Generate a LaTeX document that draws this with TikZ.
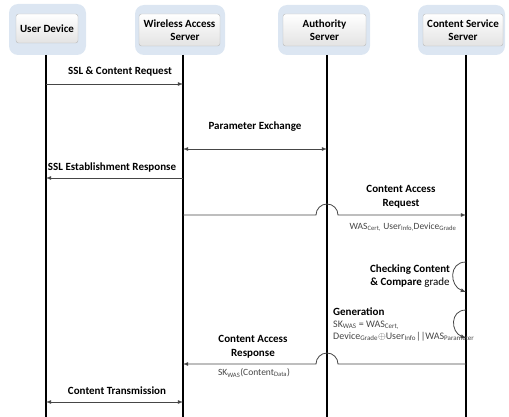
\documentclass[tikz,border=0pt]{standalone}
\usepackage{fontspec}
\setmainfont{Carlito}
\definecolor{hdrblue}{RGB}{220,230,242}
\definecolor{msggray}{RGB}{70,70,70}

\begin{document}
\begin{tikzpicture}[x=1pt,y=-1pt,>=latex]
\tikzstyle{every node}+=[inner sep=0pt]
\tikzstyle{hdrback}=[fill=hdrblue, rounded corners=9pt]
\tikzstyle{hdr}=[draw=gray!55, rounded corners=2.5pt, top color=white, bottom color=gray!22, align=center, font=\bfseries\fontsize{11}{13}\selectfont]
\tikzstyle{life}=[line width=1.4pt]
\tikzstyle{msg}=[draw=msggray, line width=0.8pt]
\tikzstyle{lbl}=[align=center, font=\bfseries\fontsize{11}{13.5}\selectfont]
\tikzstyle{note}=[text=msggray, font=\fontsize{9.5}{11}\selectfont]
\useasboundingbox (0,0) rectangle (509,417);
% headers
\node [hdrback, minimum width=77pt, minimum height=51pt] (udbg) at (47.5,29.5) {};
\node [hdr, minimum width=62pt, minimum height=29pt] (ud) at (47,28.5) {User Device};
\node [hdrback, minimum width=90pt, minimum height=50pt] (wasbg) at (180,30) {};
\node [hdr, minimum width=81pt, minimum height=32pt] (was) at (179.5,30) {Wireless Access\\ \quad Server};
\node [hdrback, minimum width=92pt, minimum height=50pt] (asbg) at (324,30) {};
\node [hdr, minimum width=83pt, minimum height=32pt] (as) at (324.5,30) {Authority\\Server};
\node [hdrback, minimum width=87pt, minimum height=50pt] (cssbg) at (461.5,30) {};
\node [hdr, minimum width=80pt, minimum height=32pt] (css) at (463,30) {Content Service\\Server};
% lifelines
\coordinate (udT) at (46,55);   \coordinate (udB) at (46,417);
\coordinate (wasT) at (183,55); \coordinate (wasB) at (183,417);
\coordinate (asT) at (327,55);  \coordinate (asB) at (327,417);
\coordinate (cssT) at (466,55); \coordinate (cssB) at (466,417);
\draw [life] (udT) -- (udB);
\draw [life] (wasT) -- (wasB);
\draw [life] (asT) -- (asB);
\draw [life] (cssT) -- (cssB);
% message rows
\coordinate (r1) at (0,84);
\coordinate (r2) at (0,149);
\coordinate (r3) at (0,178);
\coordinate (r4) at (0,215);
\coordinate (r5a) at (0,262); \coordinate (r5b) at (0,292);
\coordinate (r6a) at (0,310); \coordinate (r6b) at (0,338);
\coordinate (r7) at (0,364);
\coordinate (r8) at (0,402);
% messages
\draw [msg,->] (udT |- r1) -- (wasT |- r1);
\node [lbl] (m1) at (120,72) {SSL \& Content Request};
\draw [msg,<->] (wasT |- r2) -- (asT |- r2);
\node [lbl] (m2) at (255,127) {Parameter Exchange};
\draw [msg,->] (wasT |- r3) -- (udT |- r3);
\node [lbl] (m3) at (112,168) {SSL Establishment Response};
\draw [msg,->] (wasT |- r4) -- ([xshift=-11pt]asT |- r4) arc [start angle=180, end angle=0, radius=11pt] -- (cssT |- r4);
\node [lbl] (m4) at (401,197) {Content Access\\Request};
\node [note] (n4) at (403,227) {WAS\textsubscript{Cert,} User\textsubscript{Info,}Device\textsubscript{Grade}};
\draw [msg,->] (cssT |- r5a) to [out=180, in=160, looseness=1.5] (cssT |- r5b);
\node [lbl] (m5) at (410,276) {Checking Content\\\& Compare {\mdseries grade}};
\draw [msg,->] (cssT |- r6a) to [out=180, in=160, looseness=1.5] (cssT |- r6b);
\node [anchor=west, align=left, text=msggray, font=\fontsize{10}{12}\selectfont] (m6) at (333,324) {{\color{black}\bfseries\fontsize{11}{12}\selectfont Generation}\\
  SK\textsubscript{WAS} = WAS\textsubscript{Cert,}\\
  Device\textsubscript{Grade}$\oplus$User\textsubscript{Info}||WAS\textsubscript{Parameter}};
\draw [msg,->] (cssT |- r7) -- ([xshift=11pt]asT |- r7) arc [start angle=0, end angle=180, radius=11pt] -- (wasT |- r7);
\node [lbl] (m7) at (253,347) {Content Access\\Response};
\node [note] (n7) at (254,373) {SK\textsubscript{WAS}(Content\textsubscript{Data})};
\draw [msg,<->] (udT |- r8) -- (wasT |- r8);
\node [lbl] (m8) at (117,391) {Content Transmission};
\end{tikzpicture}
\end{document}
